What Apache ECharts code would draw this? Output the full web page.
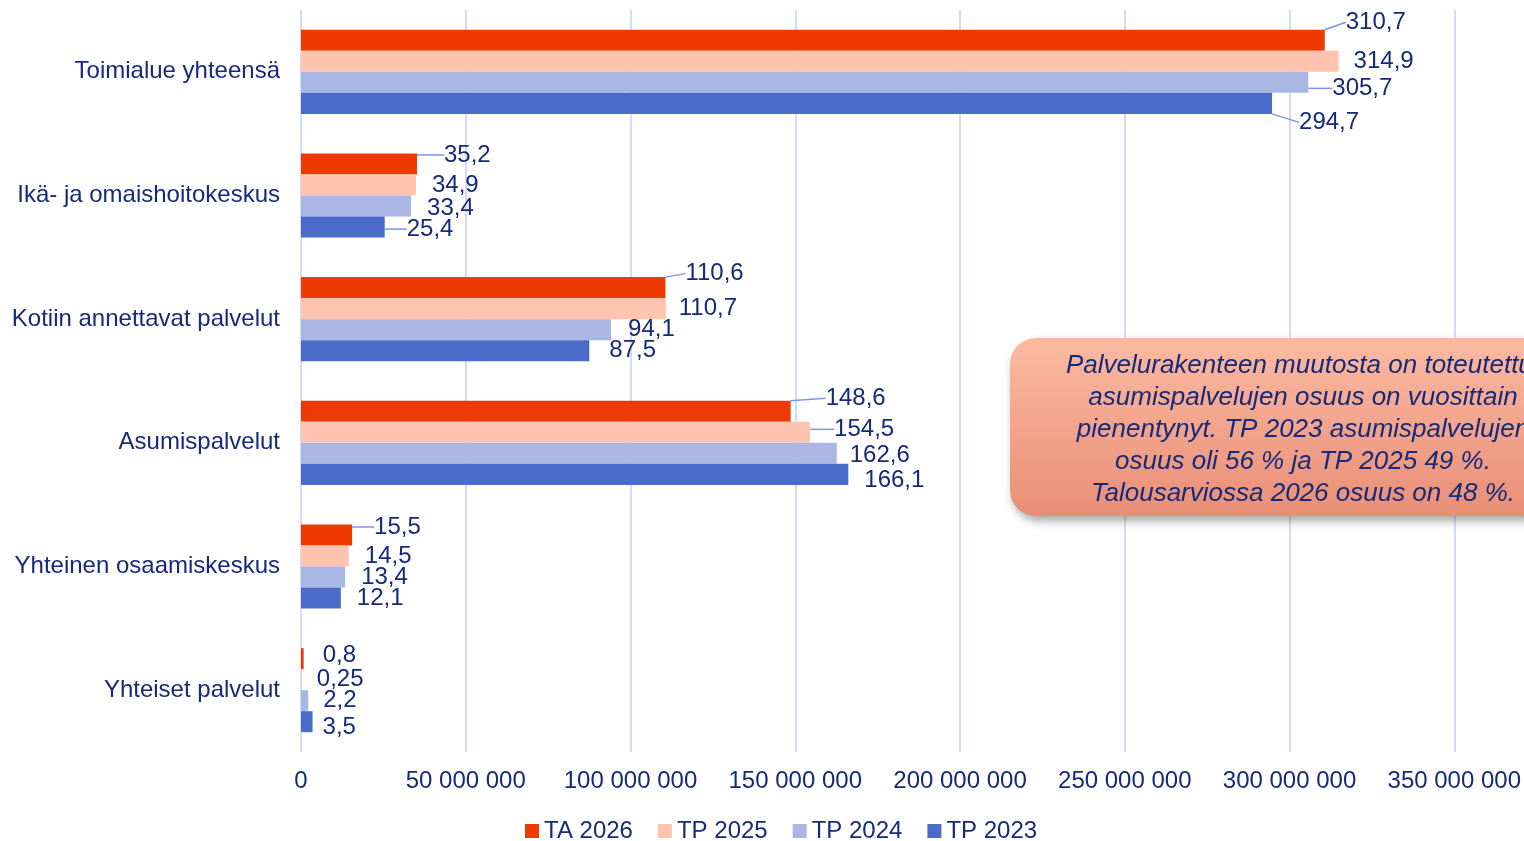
<!DOCTYPE html>
<html><head><meta charset="utf-8">
<script src="https://cdn.jsdelivr.net/npm/echarts@6/dist/echarts.min.js"></script>
<style>html,body{margin:0;padding:0;background:#fff}#c{width:1524px;height:841px}</style>
</head><body><div id="c"></div>
<script>
const categories = ['Toimialue yhteensä','Ikä- ja omaishoitokeskus','Kotiin annettavat palvelut','Asumispalvelut','Yhteinen osaamiskeskus','Yhteiset palvelut'];
const seriesNames = ['TA 2026','TP 2025','TP 2024','TP 2023'];
// values in millions of euros
const ta2026 = [310.7, 35.2, 110.6, 148.6, 15.5, 0.8];
const tp2025 = [314.9, 34.9, 110.7, 154.5, 14.5, 0.25];
const tp2024 = [305.7, 33.4, 94.1, 162.6, 13.4, 2.2];
const tp2023 = [294.7, 25.4, 87.5, 166.1, 12.1, 3.5];
const xTicks = [0, 50000000, 100000000, 150000000, 200000000, 250000000, 300000000, 350000000];
const noteLines = ['Palvelurakenteen muutosta on toteutettu,','asumispalvelujen osuus on vuosittain','pienentynyt. TP 2023 asumispalvelujen','osuus oli 56 % ja TP 2025 49 %.','Talousarviossa 2026 osuus on 48 %.'];

// label placement (style, not data): [dx, dy, leaderLine]
const labelShift = [
  [[16,-18,1],[22,-9,1],[15,-14,1],[30,-13,1],[17,-8,1],[14,-3,0]],
  [[10,0,0],[11,0,0],[8,0,0],[19,-3,1],[11,0,0],[10,0,0]],
  [[19,6,1],[11,2,0],[12,0,0],[8,2,0],[11,0,0],[10,0,0]],
  [[22,19,1],[17,2,1],[15,0,0],[11,6,0],[11,0,0],[5,6,0]]
];
const colors = ['#EE3A00','#FFC4B0','#AAB7E4','#4A6BC8'];
const txt = '#16297A';
const all = [ta2026, tp2025, tp2024, tp2023];
const FS = 24;
const GAP = 6;

const chart = echarts.init(document.getElementById('c'));
const fmt = v => String(v).replace('.', ',');
chart.setOption({
  animation:false,
  textStyle:{fontFamily:'Liberation Sans, Arial, sans-serif'},
  grid:{left:301, right:69, top:10, bottom:89, containLabel:false},
  legend:{top:814, left:520, itemWidth:14, itemHeight:14, itemGap:25, icon:'rect',
    textStyle:{color:txt, fontSize:FS}, data:seriesNames},
  xAxis:{type:'value', min:0, max:350000000, interval:50000000,
    axisLine:{show:false}, axisTick:{show:false},
    splitLine:{lineStyle:{color:'#C7CEF6', width:1.5}},
    axisLabel:{color:txt, fontSize:FS, margin:17,
      formatter:v => String(v).replace(/\B(?=(\d{3})+(?!\d))/g,' ')}},
  yAxis:{type:'category', inverse:true, data:categories,
    axisLine:{show:false}, axisTick:{show:false},
    axisLabel:{color:txt, fontSize:FS, margin:21}},
  series: seriesNames.map((name, si) => ({
    name, type:'bar', barGap:'0%', barCategoryGap:'32%',
    itemStyle:{color:colors[si]},
    label:{show:true, position:'right', distance:5, color:txt, fontSize:FS,
      formatter:p => fmt(all[si][p.dataIndex])},
    labelLine:{show:false, lineStyle:{color:'#7F93EE', width:1.5}},
    labelLayout: p => {
      const s = labelShift[si][p.dataIndex];
      return {dx: s[0] - (s[2] ? GAP : 0), dy: s[1]};
    },
    data: all[si].map((v, i) => ({
      value: v*1e6,
      label: labelShift[si][i][2] ? {padding:[0,0,0,GAP]} : {},
      labelLine:{show: !!labelShift[si][i][2]}
    }))
  })),
  graphic:[{
    type:'group', left:1010, top:338, z:100, children:[
      {type:'rect', z:100, shape:{x:0,y:0,width:590,height:178,r:26},
        style:{fill:new echarts.graphic.LinearGradient(0,0,0,1,[{offset:0,color:'#FCBAA2'},{offset:1,color:'#E98E76'}]),
          shadowBlur:10, shadowOffsetX:3, shadowOffsetY:5, shadowColor:'rgba(0,0,0,0.35)'}},
      {type:'text', z:101, x:293, y:92, style:{text:noteLines.join('\n'), fill:txt, fontSize:26, fontStyle:'italic',
        fontFamily:'Liberation Sans, Arial, sans-serif', lineHeight:32, align:'center', verticalAlign:'middle'}}
    ]}]
});
</script></body></html>
